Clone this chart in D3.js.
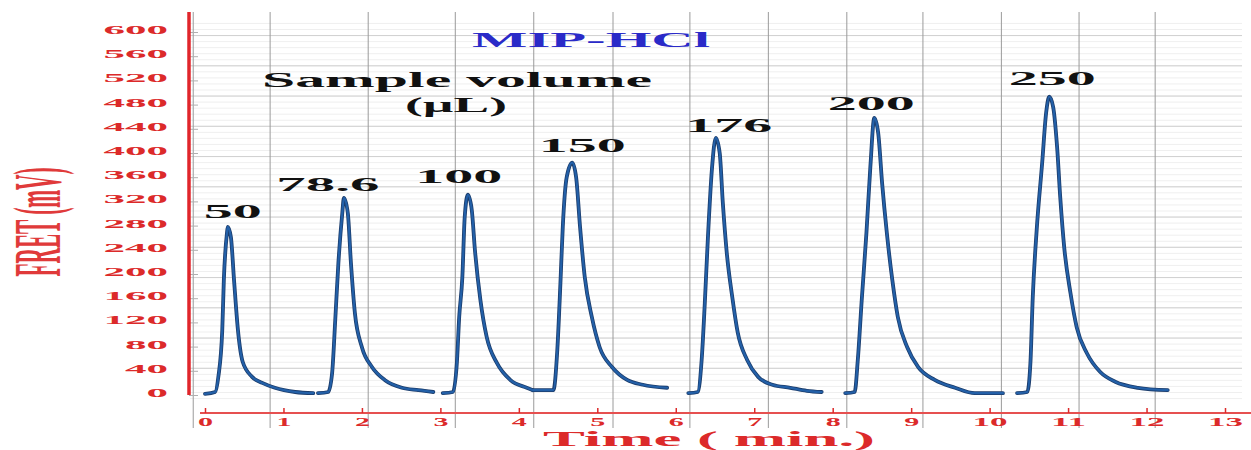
<!DOCTYPE html>
<html>
<head>
<meta charset="utf-8">
<script src="https://cdn.jsdelivr.net/npm/d3@7/dist/d3.min.js"></script>
<style>
  html, body { margin: 0; padding: 0; background: #ffffff; }
  svg { display: block; }
  text { font-family: "Liberation Serif", "DejaVu Serif", serif; font-weight: bold; }
</style>
</head>
<body>
<svg id="chart" width="1251" height="450"></svg>
<script>
// FIA response traces: [time (min), FRET signal (mV)], one per injected sample volume
const volumes = ["50", "78.6", "100", "150", "176", "200", "250"];

const trace50 = [[0.00,-3],[0.13,0],[0.17,25],[0.22,102],[0.24,185],[0.28,263],[0.29,273],[0.33,256],
  [0.37,185],[0.42,102],[0.48,50],[0.60,25],[0.73,15],[0.89,7],[1.15,0],[1.38,-2]];
const trace78_6 = [[1.44,-2],[1.57,0],[1.62,31],[1.66,119],[1.70,213],[1.75,296],[1.77,321],[1.82,296],
  [1.86,213],[1.91,131],[2.00,74],[2.13,41],[2.29,20],[2.51,7],[2.72,3],[2.91,0]];
const trace100 = [[3.03,-2],[3.16,0],[3.21,48],[3.24,124],[3.28,190],[3.31,289],[3.35,326],[3.40,301],
  [3.44,235],[3.51,152],[3.59,91],[3.72,48],[3.89,20],[4.10,7],[4.18,3]];
const trace150 = [[4.18,3],[4.44,3],[4.49,69],[4.53,180],[4.56,273],[4.61,355],[4.68,379],[4.73,355],
  [4.78,273],[4.84,190],[4.93,124],[5.03,74],[5.19,41],[5.38,20],[5.58,12],[5.89,7]];
const trace176 = [[6.16,-2],[6.28,0],[6.33,53],[6.37,147],[6.41,256],[6.46,367],[6.51,420],[6.56,395],
  [6.60,312],[6.65,230],[6.72,157],[6.79,98],[6.91,53],[7.05,25],[7.23,12],[7.46,7],[7.67,2],[7.86,0]];
const trace200 = [[8.16,-2],[8.28,0],[8.32,53],[8.37,152],[8.43,263],[8.48,372],[8.53,453],[8.58,428],
  [8.63,345],[8.69,263],[8.76,185],[8.83,124],[8.95,74],[9.09,41],[9.30,20],[9.56,7],[9.81,-2],[10.03,-2],[10.17,-2]];
const trace250 = [[10.35,-2],[10.48,0],[10.52,48],[10.55,157],[10.60,268],[10.67,379],[10.72,461],[10.76,488],
  [10.81,471],[10.86,405],[10.90,322],[10.95,240],[11.03,164],[11.11,107],[11.24,64],[11.41,33],[11.60,17],[11.89,7],[12.27,3]];

const traces = [trace50, trace78_6, trace100, trace150, trace176, trace200, trace250];

// Axis ticks
const xTickValues = [0, 1, 2, 3, 4, 5, 6, 7, 8, 9, 10, 11, 12, 13];
const yTickValues = [0, 40, 80, 120, 160, 200, 240, 280, 320, 360, 400, 440, 480, 520, 560, 600];

// Vertical grid rules (min) and heavier horizontal rules (mV)
const gridTimes = [-0.15, 0.83, 2.08, 3.19, 4.19, 5.20, 6.18, 7.18, 8.18, 9.15, 10.15, 11.14, 12.11];
const gridMajorValues = [40, 90, 140, 190, 240, 290, 340, 390, 440, 490, 540, 590];

const svg = d3.select("#chart");
const x = d3.scaleLinear().domain([0, 13]).range([205, 1225]);
const y = d3.scaleLinear().domain([0, 600]).range([392, 29]);

const red = "#dc2a2a";

// ---- grid ----
const grid = svg.append("g");
grid.selectAll("line.minor").data(d3.range(-10, 611, 10)).join("line")
  .attr("x1", 190).attr("x2", 1242)
  .attr("y1", d => y(d) + 0.5).attr("y2", d => y(d) + 0.5)
  .attr("stroke", "#ebebeb").attr("stroke-width", 0.8);
grid.selectAll("line.major").data(gridMajorValues).join("line")
  .attr("x1", 190).attr("x2", 1242)
  .attr("y1", d => y(d) + 0.5).attr("y2", d => y(d) + 0.5)
  .attr("stroke", "#d0d0d0").attr("stroke-width", 1);
grid.selectAll("line.v").data(gridTimes).join("line")
  .attr("x1", d => x(d)).attr("x2", d => x(d))
  .attr("y1", 12).attr("y2", 428)
  .attr("stroke", "#9a9a9a").attr("stroke-width", 1);

// ---- y axis ----
const yAxisG = svg.append("g").attr("transform", "translate(189,0)")
  .call(d3.axisLeft(y).tickValues(yTickValues).tickSize(0).tickPadding(21));
yAxisG.select(".domain").remove();
yAxisG.selectAll("text")
  .attr("fill", red).attr("font-size", 13).attr("dy", "0.35em")
  .attr("textLength", d => String(d).length * 21.5)
  .attr("lengthAdjust", "spacingAndGlyphs");
const yTickG = svg.append("g").attr("transform", "translate(189,3)")
  .call(d3.axisRight(y).tickValues(yTickValues).tickSize(9).tickFormat(""));
yTickG.select(".domain").remove();
yTickG.selectAll("line").attr("stroke", "#b0b0b0");
svg.append("line").attr("x1", 189).attr("x2", 189).attr("y1", 12).attr("y2", 395)
  .attr("stroke", "#e0262b").attr("stroke-width", 3.5);

// ---- x axis ----
svg.append("line").attr("x1", 200).attr("x2", 1251).attr("y1", 413).attr("y2", 413)
  .attr("stroke", "#e65050").attr("stroke-width", 1.8);
const xAxisG = svg.append("g").attr("transform", "translate(0,413)")
  .call(d3.axisBottom(x).tickValues(xTickValues).tickSizeInner(-5).tickSizeOuter(0));
xAxisG.select(".domain").remove();
xAxisG.selectAll("line").attr("stroke", red).attr("stroke-width", 1.5);
xAxisG.selectAll("text")
  .attr("fill", red).attr("font-size", 12.5).attr("y", 13).attr("dy", 0)
  .attr("textLength", d => d >= 10 ? 35 : 15)
  .attr("lengthAdjust", "spacingAndGlyphs");

// ---- traces ----
const line = d3.line().x(d => x(d[0])).y(d => y(d[1])).curve(d3.curveMonotoneX);
const traceG = svg.append("g").attr("fill", "none")
  .attr("stroke-linejoin", "round").attr("stroke-linecap", "round");
traceG.selectAll("path.outer").data(traces).join("path")
  .attr("d", line).attr("stroke", "#1c3d6c").attr("stroke-width", 3.8);
traceG.selectAll("path.inner").data(traces).join("path")
  .attr("d", line).attr("stroke", "#2360a8").attr("stroke-width", 2.2);

// ---- volume labels above each peak ----
const labelOffsets = [[5, -9], [-16, -7], [-9, -12], [10, -11], [13, -6], [-3, -8], [3, -12]];
svg.append("g").selectAll("text").data(volumes).join("text")
  .attr("x", (d, i) => x(d3.greatest(traces[i], p => p[1])[0]) + labelOffsets[i][0])
  .attr("y", (d, i) => y(d3.max(traces[i], p => p[1])) + labelOffsets[i][1])
  .attr("text-anchor", "middle").attr("font-size", 19).attr("fill", "#111")
  .attr("textLength", d => d.replace(".", "").length * 29 + (d.includes(".") ? 16 : 0))
  .attr("lengthAdjust", "spacingAndGlyphs")
  .text(d => d);

// ---- titles ----
svg.append("text").attr("x", 472).attr("y", 47).attr("font-size", 20)
  .attr("fill", "#2a2ac8").attr("textLength", 238).attr("lengthAdjust", "spacingAndGlyphs")
  .text("MIP-HCl");
svg.append("text").attr("x", 262).attr("y", 87).attr("font-size", 22)
  .attr("fill", "#111").attr("textLength", 390).attr("lengthAdjust", "spacingAndGlyphs")
  .text("Sample volume");
svg.append("text").attr("x", 405).attr("y", 112).attr("font-size", 20)
  .attr("fill", "#111").attr("textLength", 102).attr("lengthAdjust", "spacingAndGlyphs")
  .text("(µL)");

// ---- axis titles ----
svg.append("text").attr("x", 543).attr("y", 446).attr("font-size", 20)
  .attr("fill", red).attr("textLength", 332).attr("lengthAdjust", "spacingAndGlyphs")
  .text("Time ( min.)");

// Tall, condensed y title: squeeze along its run so it spans 109 px
const yTitle = svg.append("text")
  .attr("text-anchor", "middle").attr("font-size", 68).attr("font-weight", "normal")
  .attr("fill", "#e03a3a").text("FRET (mV)");
const naturalLen = yTitle.node().getComputedTextLength();
yTitle.attr("transform", `translate(60,222) rotate(-90) scale(${109 / naturalLen},1)`);
</script>
</body>
</html>
